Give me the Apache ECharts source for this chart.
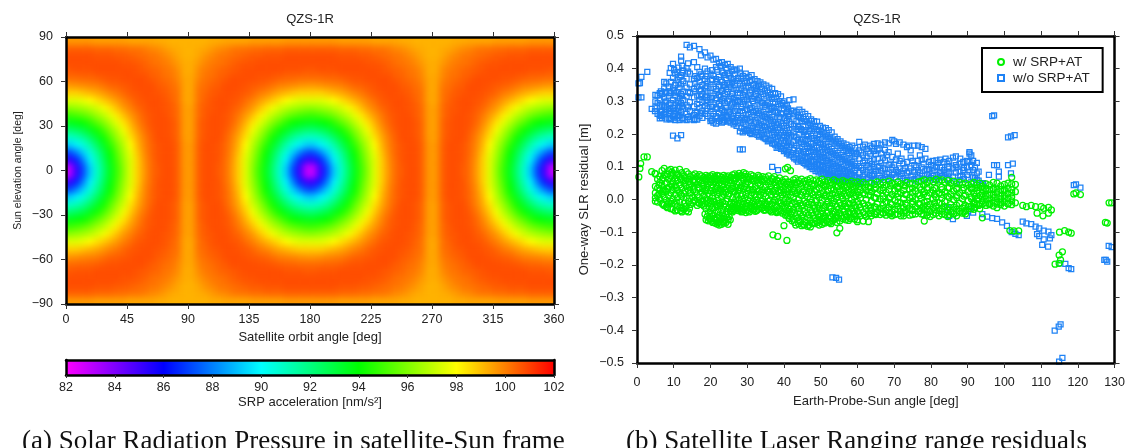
<!DOCTYPE html>
<html><head><meta charset="utf-8">
<style>html,body{margin:0;padding:0;background:#fff}
#c{position:absolute;left:0;top:0;width:1128px;height:448px;z-index:2}
#clip{position:absolute;left:66px;top:37px;width:488px;height:267px;overflow:hidden;z-index:1;background:#ff8000}
#h{position:absolute;left:-20.33px;top:-22.25px;width:540px;height:320px;filter:blur(3px)}
</style>
<script src="https://cdn.jsdelivr.net/npm/echarts@6/dist/echarts.min.js"></script>
</head><body><div id="clip"><div id="h"></div></div><div id="c"></div>
<script>
const chartTitle='QZS-1R';
const colorStops=['#ff00ff','#0000ff','#00ffff','#00ff00','#ffff00','#ff0000'];
// SRP acceleration [nm/s2] for one quadrant: rows = elevation 2.5..87.5, columns = orbit angle 2.5..87.5 (5 deg cells)
const srpQuadrant=[
[83,85.2,87.1,89.2,90.8,92.2,93.6,94.9,96.2,97.5,98.7,99.6,100.3,100.6,100.8,100.8,100.5,99.6],
[85.2,86.5,88.0,89.8,91.1,92.5,93.8,95.1,96.4,97.5,98.7,99.7,100.3,100.7,100.8,100.8,100.5,99.6],
[87.1,88.0,89.2,90.5,91.6,92.9,94.1,95.4,96.6,97.7,98.9,99.8,100.4,100.7,100.8,100.8,100.5,99.6],
[89.2,89.8,90.5,91.3,92.4,93.5,94.6,95.8,96.9,98.0,99.1,99.9,100.4,100.7,100.8,100.8,100.5,99.6],
[90.8,91.1,91.6,92.4,93.3,94.2,95.3,96.4,97.3,98.4,99.3,100,100.5,100.8,100.8,100.7,100.4,99.5],
[92.2,92.5,92.9,93.5,94.2,95,96,96.9,97.8,98.8,99.6,100.2,100.6,100.8,100.8,100.7,100.4,99.5],
[93.6,93.8,94.1,94.6,95.3,96,96.8,97.6,98.4,99.2,99.9,100.4,100.7,100.8,100.8,100.7,100.4,99.5],
[94.9,95.1,95.4,95.8,96.4,96.9,97.6,98.3,99,99.6,100.1,100.5,100.7,100.8,100.8,100.6,100.3,99.5],
[96.2,96.4,96.6,96.9,97.3,97.8,98.4,99,99.6,100,100.4,100.6,100.8,100.8,100.7,100.6,100.3,99.5],
[97.5,97.5,97.7,98,98.4,98.8,99.2,99.6,100,100.3,100.6,100.7,100.8,100.8,100.7,100.5,100.2,99.4],
[98.7,98.7,98.9,99.1,99.3,99.6,99.9,100.1,100.4,100.6,100.7,100.8,100.8,100.7,100.6,100.4,100.2,99.4],
[99.6,99.7,99.8,99.9,100,100.2,100.4,100.5,100.6,100.7,100.8,100.8,100.8,100.6,100.5,100.3,100.1,99.4],
[100.3,100.3,100.4,100.4,100.5,100.6,100.7,100.7,100.8,100.8,100.8,100.8,100.6,100.5,100.3,100.2,99.9,99.4],
[100.6,100.7,100.7,100.7,100.8,100.8,100.8,100.8,100.8,100.8,100.7,100.6,100.5,100.4,100.2,100.1,99.8,99.3],
[100.8,100.8,100.8,100.8,100.8,100.8,100.8,100.8,100.7,100.7,100.6,100.5,100.3,100.2,100.1,99.9,99.6,99.3],
[100.8,100.8,100.8,100.8,100.7,100.7,100.7,100.6,100.6,100.5,100.4,100.3,100.2,100.1,99.9,99.7,99.4,99.2],
[100.5,100.5,100.5,100.5,100.4,100.4,100.4,100.3,100.3,100.2,100.2,100.1,99.9,99.8,99.6,99.4,99.3,99.2],
[99.6,99.6,99.6,99.6,99.5,99.5,99.5,99.5,99.5,99.4,99.4,99.4,99.4,99.3,99.3,99.2,99.2,99.2]];
// Residuals in mm, each row: angle, then residuals at about that angle
const greenColumns=[
[.5,69],[.8,95],[1,110],[1.9,130],[2.8,130],[4,85],[4.9,80],
[5,78,40,20,5,-5],[5.6,62,35,12,-8],[6.2,70,52,28,2],[6.8,88,60,44,18,-12],[7.4,95,75,30,8,-18],[8,70,50,25,-2,-22],[8.6,88,62,38,12,-10],[9.2,92,72,48,20,-5,-28],[9.8,80,55,30,2,-30],[10.4,90,65,42,15,-15,-35],[11,78,58,28,5,-20,-32],[11.6,92,70,45,22,-8],[12.2,82,60,35,10,-25,-38],[12.8,72,50,18,-12,-30],[13.4,85,64,40,5,-20,-35],[14,78,55,28,-5,-38],[14.6,70,48,20,-15],[15.2,74,58,30,8,-10],[15.8,78,52,24,-2],[16.4,70,46,14,-18],[17,76,60,34,6,-12],[17.6,72,50,22,-6,-15],[18.2,68,42,12,-20],[18.8,74,56,30,2,-28,-62],[19.4,70,48,18,-10,-40,-65],[20,72,52,26,-4,-35,-60],[20.6,76,44,10,-25,-50,-70],[21.2,70,55,30,-8,-42,-72],[21.8,74,40,15,-22,-55,-75],[22.4,72,50,20,-12,-48,-68,-78],[23,68,46,8,-30,-60,-76],[23.6,74,38,16,-20,-52,-72],[24.2,70,54,22,-5,-45,-70],[24.8,72,44,12,-28,-62,-76],[25.4,66,50,28,-15,-35,-62],[26,75,40,6,-22,-38],[26.6,78,58,24,-8,-30],[27.2,72,46,14,-18,-25],[27.8,80,52,30,-2,-28],[28.4,74,42,10,-25,-38],[29,82,60,32,-6,-30],[29.6,78,48,16,-20,-40],[30.2,70,54,26,0,-35],[31,76,44,12,-18,-28],[31.6,72,58,30,-4,-32],[32.2,66,40,8,-22,-36],[33,74,50,24,-10,-30],[33.6,62,44,14,-16],[34.2,70,54,30,2,-25],[35,68,38,10,-20,-32],[35.8,72,48,22,-6,-30],[36.6,64,42,16,-14,-38],[37,-108],[37.4,70,52,28,-2,-28],[38,60,36,8,-24,-40],[38.3,-113],[38.8,66,46,20,-10,-34],[39.6,58,40,14,-18,-42],[40,-80],[40.4,94,62,30,2,-26,-48],[40.8,-125],[41,98,54,24,-8,-36,-50],[41.8,88,46,12,-20,-44],[42.6,60,34,6,-30,-60],[43.2,64,44,18,-14,-50,-78],[44,58,30,0,-28,-62,-74],[44.8,62,40,12,-20,-52,-80],[45.6,56,28,-4,-36,-68,-78],[46.4,60,38,8,-24,-56,-82],[47.2,64,32,2,-32,-64,-84],[48,58,42,14,-18,-48,-72],[48.8,60,30,-6,-38,-66],[49.6,56,36,6,-26,-54,-78],[50.4,62,28,-2,-34,-60,-76],[51.2,54,40,10,-20,-50,-72],[52,58,26,-8,-40,-68],[52.8,52,34,4,-28,-56,-74],[53.6,60,30,-4,-36,-62],[54.4,55,38,8,-22,-48,-70,-102],[55.2,52,24,-10,-42,-66,-88],[56,58,32,2,-30,-58],[56.8,54,36,10,-20,-46,-62],[57.6,50,22,-12,-38,-64],[58.4,56,30,0,-26,-54],[59.2,50,34,8,-18,-44,-60],[60,54,24,-6,-36,-62,-68],[60.8,48,30,4,-24,-50],[61.6,52,20,-12,-40,-66],[62.4,46,28,0,-28,-52],[63,-68,38,14,-18,-44],[63.8,50,24,-6,-34,-50],[64.6,46,32,6,-22,-44],[65.4,54,18,-14,-38],[66.2,48,28,2,-26,-46],[67,52,36,10,-18,-40],[67.8,44,22,-8,-32,-48],[68.6,56,30,4,-24,-42],[69.4,50,16,-16,-38,-50],[70.2,46,26,-2,-30,-46],[71,54,34,8,-20,-44],[71.8,48,20,-10,-36,-50],[72.6,44,28,2,-24,-42,-50],[73.4,52,14,-18,-40],[74.2,48,32,6,-28,-48],[75,50,22,-6,-34,-46],[75.8,46,26,0,-22,-44],[76.6,54,18,-12,-36],[77.4,56,30,4,-26,-44],[78.2,60,24,-8,-32,-66],[79,52,36,10,-18,-40],[79.8,58,20,-14,-36,-52],[80.6,54,28,2,-24,-46],[81.4,62,34,8,-20,-42],[82.2,56,18,-10,-34,-50],[83,60,30,4,-28,-44],[83.8,52,24,-6,-22,-46],[84.6,58,36,10,-32,-52],[85.4,50,16,-16,-38],[86.2,56,26,0,-24,-44],[87,48,32,6,-30,-50],[87.8,52,20,-12,-36],[88.6,46,28,2,-26,-42],[89.4,50,14,-18,-34,-44],[90.2,44,24,-4,-22],[91,48,32,8,-28],[91.7,52,20,-10,-30],[92.5,45,26,0,-16],[93.3,50,12,-14,-28],[94,-56,40,18,-4],[95,48,26,2,-18],[96,44,14,-12],[97,52,30,6,-20],[98,50,22,-8,-25],[99,42,10,-16],[100,46,26,4,-20],[101,50,18,-12],[102,68,48,30,-4,-16],[101.5,-95],[102.6,-96],[103,46,24,-10],[103.9,-96],
[105,-18],[106,-22],[107.3,-18],[108.5,-22],[110,-22],[110.7,-27],[112,-24],[112.8,-32],[108.9,-42],[110.5,-50],[112,-42],
[115,-100],[116.4,-95],[117.5,-100],[118.2,-103],[114.9,-170],[115.8,-160],[113.8,-198],[114.9,-195],[115.3,-185],
[118.9,17],[119.5,20],[120.7,15],[127.5,-70],[128,-72],[128.5,-10],[129.2,-10]
];
const greenFill=[
[6,44,16],[7.1,66,25,-16],[8.3,77,33,-14,-25],[9.5,84,41,-12],[10.7,74,36,-8],[11.9,63,16,-34],[13.1,58,26,-22],[14.3,62,37,4,-27],[15.5,60,38,-5],[16.7,55,37,-9],[17.9,57,33,-3],[18.5,62,26,-13,-45],[19.1,61,37,-2,-52],[19.7,64,11,-22,-58],[20.3,60,36,-13,-44,-66],[20.9,64,21,-5,-58],[21.5,62,34,-15,-63],[22.1,59,27,-3,-36,-70],[22.7,61,33,-18,-57],[23.3,57,23,-7,-41,-68],[23.9,63,29,-13,-60],[24.5,61,33,2,-37,-55],[25.1,58,17,-24,-52],[25.7,68,33,-9,-28],[26.3,64,25,-14,-33],[26.9,65,36,2,-27],[27.5,68,27,-11,-34],[28.1,72,36,-13,-33],[28.7,66,17,-15,-36],[29.3,71,39,5,-24],[29.9,62,36,-11,-30],[30.6,66,31,-6,-38],[31.3,63,21,-12,-24],[31.9,56,16,-15,-29],[32.6,60,33,-3,-34],[33.3,69,29,-13],[33.9,57,22,-6,-27],[34.6,61,18,-10,-33],[35.4,60,27,-13,-26],[36.2,55,31,-3,-34],[37,63,24,-9,-31],[37.7,45,17,-17,-36],[38.4,56,25,-5,-38],[39.2,49,29,-12,-35],[40,52,21,-7,-37],[40.7,47,16,-14,-41],[41.4,53,33,-3,-30,-58],[42.2,48,23,-12,-38,-65],[42.9,51,27,-8,-41,-70],[43.6,52,21,-20,-56],
[44.4,49,15,-11,-41,-68],[45.2,51,22,-16,-46,-76],[46,47,18,-12,-43,-70],[46.8,52,25,-15,-47,-78],[47.6,48,20,-9,-41,-72],[48.4,46,23,-27,-58,-74],[49.2,51,15,-17,-46,-70],[50,49,18,-12,-45,-66],[50.8,44,20,-25,-57,-70],[51.6,47,14,-15,-42,-64],[52.4,43,12,-20,-49,-70],[53.2,46,17,-12,-44,-66],[54,42,20,-14,-38,-58],[54.8,40,15,-30,-56],[55.6,45,11,-18,-50],[56.4,41,18,-12,-38,-53],[57.2,39,12,-24,-52],[58,44,16,-14,-44,-58],[58.8,40,20,-10,-36],[59.6,42,12,-24,-50],[60.4,39,14,-16,-44],[62,38,15,-20,-46],[63.6,36,12,-26,-42],[65,37,5,-24,-46],[67,28,2,-28,-42],[69,42,8,-12,-44],[71,40,18,-8,-30],[73,41,16,-12,-34],[75,35,8,-14,-30],[77,38,12,-16,-36],[78,44,15,-20,-46],[79,30,-6,-30,-48],[81,36,14,-10,-32],[83,38,16,-14,-36],[85,36,6,-24,-46],[87,34,12,-18,-40],[89,36,10,-22,-38],[91,36,2,-20],[92,34,10,-12,-24],[93,36,4,-18],[94,30,8,-14],[95,34,12,-10],[96,30,2,-16],[97,34,14,-8],[98,32,8,-14],[99,30,2,-10],[100,32,12,-8],[101,34,4,-14],[102,20,8]
];
const blueColumns=[
[.4,355,312],[.8,356],[1.2,375,312],[2.8,390],[4,277],[4.9,270],
[5,320,300,282],[5.6,318,295,262],[6.2,325,305,285,258,248],[6.8,322,290,272,250],[7.4,360,340,312,285,262],[8,355,325,300,275,245],[8.6,345,318,290,265,250],[9.2,402,360,325,295,270,245],[9.8,415,372,340,305,280,255,195],[10.4,385,350,318,290,262,243],[11,390,365,328,300,272,248,187],[11.6,375,342,310,285,258,243],[12,437,425,380,352,322,295,268,197],[12.6,395,362,330,305,278,245],[13.5,473,402,370,342,315,288,262,243],[14.4,465,385,352,325,298,270,245],[15.5,470,420,368,338,312,285,258,243],[16.4,405,372,345,318,292,268,244],[17,460,390,360,332,305,280,255],[17.8,378,350,322,298,272,250],[18.5,450,400,368,340,312,286,262],[19.2,435,392,358,330,305,278,255],[20,440,385,352,325,298,270,248,240],[20.8,428,378,345,318,290,262,235],[21.5,430,405,368,338,310,282,255,232],[22.3,418,375,348,320,292,265,240],[23.1,420,392,360,332,302,275,250,235],[23.9,412,380,350,322,295,268,242],[24.7,415,385,355,328,300,272,248,238],[25.5,405,372,345,315,288,260,235],[26.3,398,368,340,310,282,255,230],[27.1,395,362,335,305,278,250,225],[28,400,388,355,325,298,270,242,208,153],[28.8,378,348,320,292,265,238,205,153],[29.6,385,372,342,312,285,258,230,210],[30.4,375,345,318,290,262,235,208],[31.2,380,365,335,308,280,252,225,200],[32,368,340,312,285,258,230,205],[32.8,362,332,305,278,250,222,198],[33.6,358,328,300,272,245,218,195],[34.4,352,322,295,268,240,212,190],[35.2,348,318,290,262,235,208,185],[36,342,312,285,258,230,202,180],[36.8,338,308,280,252,225,198,172,100],[37.6,325,298,272,245,218,192,168],[38.4,322,292,265,238,212,186,162,90],[39.2,315,288,260,232,205,180,155],[40,300,278,250,225,198,172,148],[40.8,290,268,242,218,192,165,140],[41.5,304,262,238,212,186,160,135],[42.6,306,272,245,205,178,152,130],[43.4,268,240,215,190,165,140,122],[44.2,275,252,225,198,172,148,125],[45,268,240,212,186,160,135,118],[45.8,262,238,208,182,155,130,110],[46.6,255,228,200,175,148,125,108],[47.4,245,220,195,170,145,120,102],[48.2,240,215,188,162,138,115,98],[49,238,208,182,158,132,110,92],[49.8,225,200,175,150,128,105,88],[50.6,220,195,170,145,122,100,82],[51.4,218,190,165,140,118,95,78],[52.2,212,185,160,135,112,90,75],[53,205,178,155,130,108,88,72],[53.2,-238],[53.8,192,172,148,125,102,82,70],[54.2,-240],[54.6,185,165,142,120,98,78,68],[55,-245],[55.4,178,158,136,115,92,72,62],[56.2,172,152,130,110,88,70],[57,168,148,125,105,82,65],[57.8,160,142,120,100,78,60],[58.6,165,138,115,95,75,58],[59.4,158,132,110,90,70,55],[60.5,176,150,125,102,82,62,50],[61.5,162,135,112,90,70,52],[62.5,155,128,105,85,64],[63.5,165,140,118,95,75,55],[64.5,170,148,122,100,78,60],[65.5,172,150,125,100,80],[66.5,168,140,112,88,65],[67.5,175,152,120,92,70],[68.5,172,145,105,82,62],[69.5,182,130,98,75],[70.5,170,122,90,68],[71.5,175,118,95,72],[72.5,168,110,88,65],[73.5,160,115,82,60],[74.5,150,128,95,70],[75.5,165,105,85,62],[76.5,165,118,90,68],[77.5,160,122,98,72],[78.5,155,125,88,64],[79.5,115,92,70],[80.5,118,95,72],[81.5,120,100,75,60],[82.5,122,98,80],[83.5,115,90,68],[84.5,110,85,62,-25],[85,100,80,-50],[86,128,95,70,-60],[86.8,132,105,82],[87.8,110,85,60],[88.8,115,90,70],[89.8,118,98,75,-50],[90.5,145,140,115,85,-30],[91.5,118,90,68,-40],[92.5,112,80,60],
[94,50,-45],[94.2,50],[95.3,-52],[95.8,75],[96.7,255,-57],[97.2,257,105],[98,105,-59],[98.5,85,70],[99.4,-70],[100.7,-81],[101,190,105],[101.8,193,80],[102.3,110],[102.8,197],[102,-100],[103,-105],[103.9,-109],
[105,-68],[106,-73],[107.3,-75],[108.5,-83],[109.5,-88],[110.7,-95],[112,-98],[108.9,-106],[109.5,-112],[110.7,-122],[112.8,-109],[112.4,-119],[110.3,-139],[111.9,-144],
[115,-195],[116.6,-197],[117.5,-210],[118.2,-213],[113.7,-401],[114.8,-389],[115.3,-382],[114.9,-496],[115.8,-484],
[118.9,44],[119.5,46],[120.7,36],[127.2,-185],[127.6,-185],[128,-190],[128.4,-142],[129.2,-146]
];
const blueFill=[
[6.5,331,268,256],[7.7,329,296,268],[8.9,387,331,276,246],[10.1,396,333,327,271,251],[11.3,403,355,296,281,255],[12.3,409,387,317,285,249],[13.9,416,391,329,282,252],[15.9,377,355,331,265,246],[17.4,441,383,337,315,263],[18.9,377,347,318,296,271],[20.4,396,366,309,283,242],
[21.9,397,359,331,277,251],[22.7,409,366,314,286,247],[23.5,388,342,309,258,238],[24.3,402,371,337,281,255],[25.1,379,351,306,267,241],[25.9,394,358,322,293,248],[26.7,383,349,298,271,237],[27.5,372,327,301,259,233],[28.4,369,337,283,249,219],[29.2,361,331,303,244,216],[30,357,306,273,247,212],[30.8,362,327,279,241,204],[31.6,349,301,268,219,211],[32.4,343,322,271,238,206],[33.2,351,309,263,229,192],[34,339,296,257,226,199],[34.8,333,288,253,221,187],[35.6,327,296,248,214,178],[36.4,319,277,241,217,183],[37.2,312,283,236,206,171],[38,308,269,229,203,177,158],[38.8,301,252,219,196,164],[39.6,295,263,226,189,159],[40.4,287,248,208,179,151],[41.1,279,256,203,174,144],[41.9,271,231,196,168,137],[42.8,263,226,193,157,126],[43.8,257,221,183,149,116],[44.6,249,216,177,141,119],[45.4,246,207,169,146,112],[46.2,239,194,163,127,104],[47,233,209,158,133,99],[47.8,226,187,151,116,93],[48.6,221,179,146,122,87],[49.4,213,173,139,109,83],[50.2,206,168,131,103,78],[51,199,159,127,94,74],[51.8,193,151,119,89,68],[52.6,189,147,113,83,66],[53.4,183,141,109,79,63],[54.2,177,136,103,74,61],[55,171,129,97,69,58],[55.8,163,124,93,67],[56.6,159,119,87,63,54],[57.4,153,113,85,59],[58.2,149,109,79,56],[59,143,103,73,52],[59.8,139,97,67,49],
[61,143,97,58],[62,168,118,77],[63,147,98,67],[64,159,109,72],[65,139,88,58],[66,156,103,73],[67,128,95,60],[68,135,78],[69,110,68],[70,178,105,79],[71,140,84],[72,125,78],[73,96,58],[74,165,86],[75,118,74],[76,98,58],[77,135,80],[78,108,62],[79,92,75],[80,105,65],[81,88,60],[82,112,68],[83,98,72],[84,125,80],[85,118,60],[87,100,55],[88,125,72],[89,96,62],[91,135,105,55],[92,98,65],[93,85,58]
];
const srpMin=82,srpMax=102;

const flatten=cols=>cols.flatMap(c=>c.slice(1).map(v=>[c[0],v/1000]));
const nx=srpQuadrant[0].length, ny=srpQuadrant.length, pad=3;
const xCats=[],yCats=[],cells=[];
for(let i=-pad;i<4*nx+pad;i++)xCats.push(String(i));
for(let j=-pad;j<2*ny+pad;j++)yCats.push(String(j));
for(let i=-pad;i<4*nx+pad;i++){
  let a=((i%(2*nx))+2*nx)%(2*nx); a=a<nx?a:2*nx-1-a;
  for(let j=-pad;j<2*ny+pad;j++){
    let k=j<0?-1-j:(j>=2*ny?4*ny-1-j:j);
    let b=k<ny?ny-1-k:k-ny;
    cells.push([i+pad,j+pad,srpQuadrant[b][a]]);
  }
}
const FF='"Liberation Sans",Arial,sans-serif',TC='#222';
const minus=s=>String(s).replace('-','\u2212');
const line={show:true,onZero:false,lineStyle:{color:'#000',width:2.5}};
const tick={show:true,length:5,inside:false,lineStyle:{color:'#333',width:1}};
const lbl={color:TC,fontFamily:FF,fontSize:12.5,margin:9};
const ylbl=Object.assign({},lbl,{margin:13});
const name={color:TC,fontFamily:FF,fontSize:13};
const val=(o)=>Object.assign({type:'value',z:5,splitLine:{show:false},axisLine:line,axisTick:tick,axisLabel:lbl,nameTextStyle:name,nameLocation:'middle'},o);
const noLbl={show:false};

const G0={left:66,top:37,width:488,height:267};
const G1={left:637,top:36,width:479,height:327};
const G2={left:66,top:360,width:488,height:15};

// smooth field layer: the heatmap, drawn under the axes
const heat=echarts.init(document.getElementById('h'),null,{renderer:'canvas'});
heat.setOption({
 animation:false,
 grid:{left:0,top:0,width:528.67,height:311.5},
 xAxis:{type:'category',data:xCats,show:false},
 yAxis:{type:'category',data:yCats,show:false},
 visualMap:{type:'continuous',show:false,min:srpMin,max:srpMax,inRange:{color:colorStops}},
 series:[{type:'heatmap',data:cells,progressive:0,itemStyle:{borderWidth:0},emphasis:{disabled:true}}]
});

const option={
 animation:false,
 textStyle:{fontFamily:FF},
 title:[
  {text:chartTitle,left:305,top:8,textAlign:'center',textStyle:{fontFamily:FF,fontSize:13,fontWeight:'normal',color:TC}},
  {text:chartTitle,left:872,top:8,textAlign:'center',textStyle:{fontFamily:FF,fontSize:13,fontWeight:'normal',color:TC}},
  {text:'(a) Solar Radiation Pressure in satellite-Sun frame',left:17,top:423,textStyle:{fontFamily:'"Liberation Serif",serif',fontSize:27,fontWeight:'normal',color:'#111'}},
  {text:'(b) Satellite Laser Ranging range residuals',left:621,top:423,textStyle:{fontFamily:'"Liberation Serif",serif',fontSize:27,fontWeight:'normal',color:'#111'}}
 ],
 grid:[G0,G1,G2],
 xAxis:[
  val({gridIndex:0,position:'bottom',min:0,max:360,interval:45,name:'Satellite orbit angle [deg]',nameGap:21}),
  val({gridIndex:0,position:'top',min:0,max:360,interval:45,axisLabel:noLbl}),
  val({gridIndex:1,position:'bottom',min:0,max:130,interval:10,name:'Earth-Probe-Sun angle [deg]',nameGap:31.5,axisLabel:Object.assign({},lbl,{margin:13})}),
  val({gridIndex:1,position:'top',min:0,max:130,interval:10,axisLabel:noLbl}),
  val({gridIndex:2,position:'bottom',min:82,max:102,interval:2,name:'SRP acceleration [nm/s\u00b2]',nameGap:20.5,axisLabel:Object.assign({},lbl,{margin:6}),axisTick:{show:true,length:3,lineStyle:{color:'#333'}}}),
  val({gridIndex:2,position:'top',min:82,max:102,interval:2,axisLabel:noLbl,axisTick:{show:false}})
 ],
 yAxis:[
  val({gridIndex:0,position:'left',min:-90,max:90,interval:30,axisLabel:Object.assign({},ylbl,{formatter:minus}),name:'Sun elevation angle [deg]',nameGap:42,nameTextStyle:{color:TC,fontFamily:FF,fontSize:10.5}}),
  val({gridIndex:0,position:'right',min:-90,max:90,interval:30,axisLabel:noLbl}),
  val({gridIndex:1,position:'left',min:-0.5,max:0.5,interval:0.1,axisLabel:Object.assign({},ylbl,{formatter:v=>minus(v.toFixed(1))}),name:'One-way SLR residual [m]',nameGap:46}),
  val({gridIndex:1,position:'right',min:-0.5,max:0.5,interval:0.1,axisLabel:noLbl}),
  val({gridIndex:2,position:'left',min:0,max:1,interval:1,axisLabel:noLbl,axisTick:{show:false}}),
  val({gridIndex:2,position:'right',min:0,max:1,interval:1,axisLabel:noLbl,axisTick:{show:false}})
 ],
 visualMap:[{
  type:'continuous',seriesIndex:[],min:srpMin,max:srpMax,orient:'horizontal',left:66,top:360,itemWidth:15,itemHeight:488,
  calculable:false,realtime:false,text:null,showLabel:false,padding:0,inRange:{color:colorStops},
  textStyle:{fontSize:0,color:'transparent'},z:1
 }],
 legend:{
  data:[{name:'w/ SRP+AT',icon:'circle'},{name:'w/o SRP+AT',icon:'rect'}],
  orient:'vertical',left:982,top:48,padding:[7,13,7,15],itemGap:2,itemWidth:6,itemHeight:6,
  backgroundColor:'#fff',borderColor:'#000',borderWidth:2,
  textStyle:{fontFamily:FF,fontSize:13.5,color:TC,padding:[0,0,0,4]},
  selectedMode:false
 },
 series:[
  {type:'scatter',name:'w/o SRP+AT',xAxisIndex:2,yAxisIndex:2,data:flatten(blueColumns).concat(flatten(blueFill)),symbol:'rect',symbolSize:5,large:false,progressive:0,
   itemStyle:{color:'rgba(255,255,255,0)',borderColor:'#1e82f5',borderWidth:1.25,opacity:1}},
  {type:'scatter',name:'w/ SRP+AT',xAxisIndex:2,yAxisIndex:2,data:flatten(greenColumns).concat(flatten(greenFill)),symbol:'circle',symbolSize:6,large:false,progressive:0,
   itemStyle:{color:'rgba(255,255,255,0)',borderColor:'#00f000',borderWidth:1.25,opacity:1}}
 ]
};
const chart=echarts.init(document.getElementById('c'),null,{renderer:'canvas'});
chart.setOption(option);
</script></body></html>
